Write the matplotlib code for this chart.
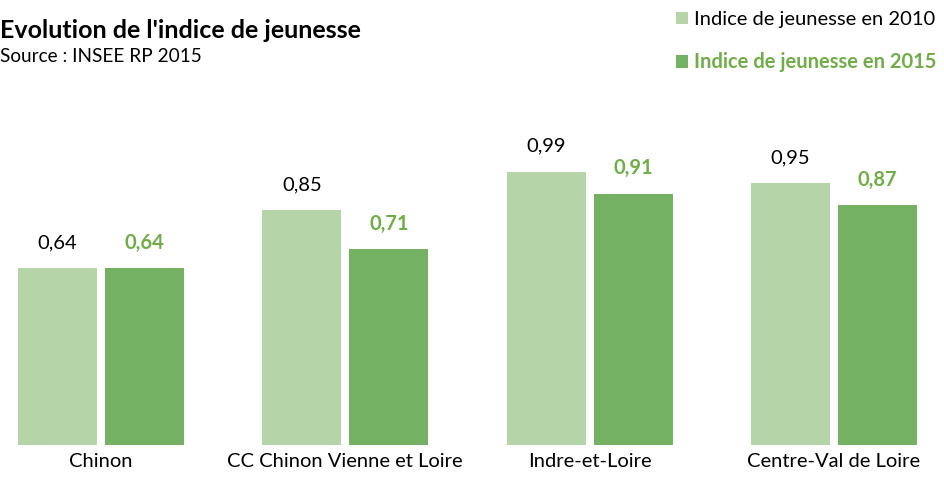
import matplotlib.pyplot as plt
import numpy as np

# Données
territoires = ['Chinon', 'CC Chinon Vienne et Loire', 'Indre-et-Loire', 'Centre-Val de Loire']
indice_2010 = [0.64, 0.85, 0.99, 0.95]
indice_2015 = [0.64, 0.71, 0.91, 0.87]
labels_2010 = ['0,64', '0,85', '0,99', '0,95']
labels_2015 = ['0,64', '0,71', '0,91', '0,87']

clair = '#B5D4A7'
fonce = '#75B162'
vert_txt = '#70AD47'

plt.rcParams['font.family'] = ['Lato', 'DejaVu Sans']

W, H = 944, 482
fig = plt.figure(figsize=(W / 100, H / 100), dpi=100)
# axes en pixels : bas a 445 px depuis le haut, haut a 130 px
ax = fig.add_axes([0, (H - 445) / H, 1, (445 - 130) / H])

x = np.arange(len(territoires))
larg = 0.323
dec = 0.178
b1 = ax.bar(x - dec, indice_2010, larg, color=clair, label='Indice de jeunesse en 2010')
b2 = ax.bar(x + dec, indice_2015, larg, color=fonce, label='Indice de jeunesse en 2015')

for xi, v, t in zip(x, indice_2010, labels_2010):
    ax.text(xi - dec, v + 0.092, t, ha='center', va='center', fontsize=14.5, color='black')
for xi, v, t in zip(x, indice_2015, labels_2015):
    ax.text(xi + dec, v + 0.092, t, ha='center', va='center', fontsize=14.5,
            color=vert_txt, fontweight='bold')

ax.set_xlim(-0.413, 3.45)
ax.set_ylim(0, (445 - 130) / 276)
ax.set_xticks(x)
ax.set_xticklabels(territoires, fontsize=14.5)
ax.tick_params(axis='x', length=0, pad=6)
ax.set_yticks([])
for s in ax.spines.values():
    s.set_visible(False)

fig.text(0, 1 - 30 / H, "Evolution de l'indice de jeunesse", fontsize=18,
         fontweight='bold', va='center', ha='left')
fig.text(0, 1 - 57 / H, 'Source : INSEE RP 2015', fontsize=13.7, va='center', ha='left')

leg = fig.legend(handles=[b1, b2], loc='upper left', bbox_to_anchor=(660 / W, 1 + 5 / H),
                 frameon=False, fontsize=14.5, handlelength=0.6, handleheight=0.6,
                 handletextpad=0.3, labelspacing=1.2, borderpad=0.3)
leg.get_texts()[1].set_color(vert_txt)
leg.get_texts()[1].set_fontweight('bold')

fig.savefig('out.png', dpi=100)
